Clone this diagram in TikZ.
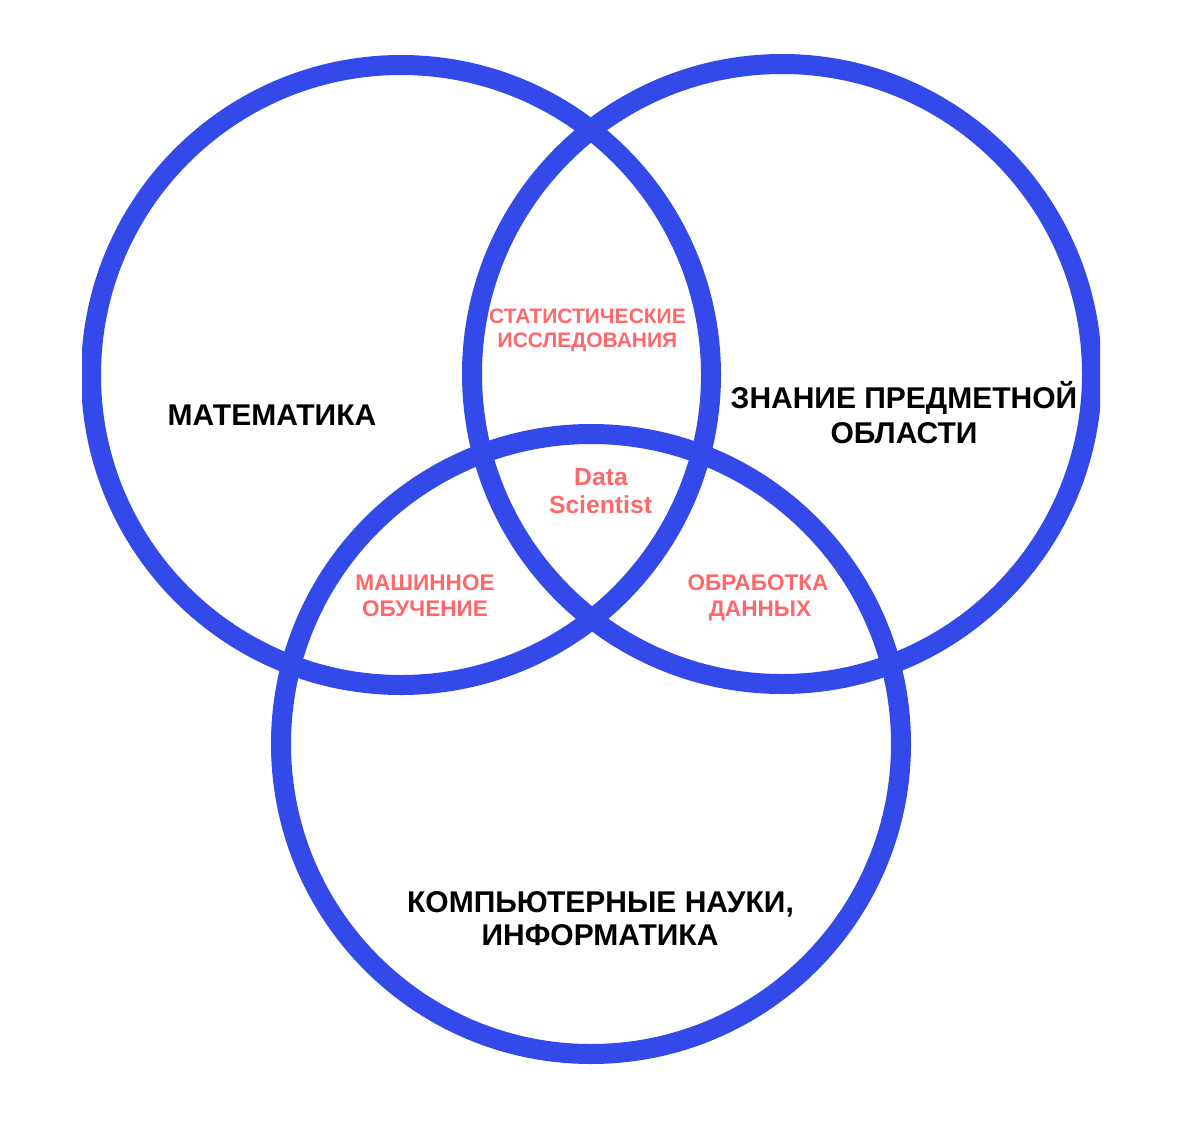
\documentclass[tikz,border=0pt]{standalone}
\usepackage{fontspec}
\setmainfont{Liberation Sans}
\definecolor{ringblue}{RGB}{51,73,233}
\definecolor{lblpink}{RGB}{255,104,106}
\begin{document}
\begin{tikzpicture}[x=1pt,y=-1pt,
  ring/.style={draw=ringblue,line width=20pt},
  mainlbl/.style={anchor=base,font=\bfseries\fontsize{30}{34}\selectfont,text=black,inner sep=0pt},
  sublbl/.style={anchor=base,font=\bfseries\fontsize{21}{24}\selectfont,text=lblpink,inner sep=0pt},
  pairlbl/.style={anchor=base,font=\bfseries\fontsize{22.6}{26}\selectfont,text=lblpink,inner sep=0pt},
  dslbl/.style={anchor=base,font=\bfseries\fontsize{24.7}{28}\selectfont,text=lblpink,inner sep=0pt}]
\useasboundingbox (0,0) rectangle (1200,1138);
\begin{scope}
\clip (82,0) rectangle (1100,1138);
\draw[ring] (401,375) circle[radius=310];
\draw[ring] (782,374) circle[radius=310];
\draw[ring] (591,744) circle[radius=310];
\end{scope}
% main labels
\node[mainlbl] (math) at (272,425) {МАТЕМАТИКА};
\node[mainlbl] (dom1) at (904,408) {ЗНАНИЕ ПРЕДМЕТНОЙ};
\node[mainlbl] (dom2) at (904,443) {ОБЛАСТИ};
\node[mainlbl] (cs1) at (600.5,912) {КОМПЬЮТЕРНЫЕ НАУКИ,};
\node[mainlbl] (cs2) at (600,945) {ИНФОРМАТИКА};
% intersections
\node[sublbl] (st1) at (587.5,323) {СТАТИСТИЧЕСКИЕ};
\node[sublbl] (st2) at (587.5,347) {ИССЛЕДОВАНИЯ};
\node[pairlbl] (ml1) at (425,590) {МАШИННОЕ};
\node[pairlbl] (ml2) at (425,616) {ОБУЧЕНИЕ};
\node[pairlbl] (dp1) at (758,590) {ОБРАБОТКА};
\node[pairlbl] (dp2) at (760,616) {ДАННЫХ};
\node[dslbl] (ds1) at (601,485) {Data};
\node[dslbl] (ds2) at (600.5,513) {Scientist};
\end{tikzpicture}
\end{document}
